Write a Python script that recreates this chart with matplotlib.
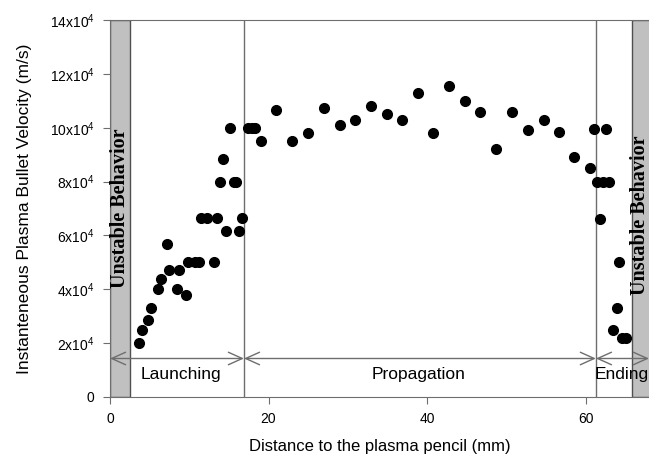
import matplotlib
matplotlib.use("Agg")
import matplotlib.pyplot as plt
from matplotlib.patches import FancyArrowPatch

plt.rcParams["font.family"] = ["Liberation Sans", "DejaVu Sans"]
plt.rcParams["mathtext.default"] = "regular"

# bullet velocities (units of 1e4 m/s) vs distance from the pencil (mm)
launch_x = [3.6, 4.0, 4.8, 5.2, 6.0, 6.4, 7.2, 7.5, 8.4, 8.7, 9.6, 9.9, 10.7,
            11.2, 11.5, 12.3, 13.1, 13.5, 13.9, 14.3, 14.6, 15.1, 15.6, 15.9,
            16.3, 16.7, 17.4, 17.9, 18.3]
launch_v = [2.0, 2.5, 2.85, 3.3, 4.0, 4.4, 5.7, 4.7, 4.0, 4.7, 3.8, 5.0, 5.0,
            5.0, 6.65, 6.65, 5.0, 6.65, 8.0, 8.85, 6.15, 10.0, 8.0, 8.0,
            6.15, 6.65, 10.0, 10.0, 10.0]

prop_x = [19.0, 21.0, 23.0, 25.0, 27.0, 29.0, 30.9, 32.9, 34.9, 36.9, 38.9,
          40.8, 42.8, 44.8, 46.7, 48.7, 50.7, 52.7, 54.7, 56.7, 58.6, 60.6, 61.0]
prop_v = [9.5, 10.65, 9.5, 9.8, 10.75, 10.1, 10.3, 10.8, 10.5, 10.3, 11.3,
          9.8, 11.55, 11.0, 10.6, 9.2, 10.6, 9.9, 10.3, 9.85, 8.9, 8.5, 9.95]

end_x = [61.4, 61.8, 62.2, 62.6, 63.0, 63.4, 63.9, 64.2, 64.6, 65.1]
end_v = [8.0, 6.6, 8.0, 9.95, 8.0, 2.5, 3.3, 5.0, 2.2, 2.2]

# region borders (mm)
unstable_left = 2.5
launch_end = 16.9
prop_end = 61.3
unstable_right = 65.8
x_max = 68.0

yticks = [0, 2, 4, 6, 8, 10, 12, 14]
ytick_labels = ["0"] + [f"{t}x10$^4$" for t in yticks[1:]]
xticks = [0, 20, 40, 60]

fig = plt.figure(figsize=(6.49, 4.58), dpi=100)
ax = fig.add_axes([110 / 649, 1 - 397 / 458, 1 - 110 / 649, 377 / 458])

gray = "#6e6e6e"

ax.axvspan(0, unstable_left, facecolor="#c0c0c0", edgecolor="#505050", lw=1, zorder=1)
ax.axvspan(unstable_right, x_max + 1, facecolor="#c0c0c0", edgecolor="#505050", lw=1, zorder=1)
ax.axvline(launch_end, color=gray, lw=1, zorder=1)
ax.axvline(prop_end, color=gray, lw=1, zorder=1)

for xc, yc in [(unstable_left / 2, 7.0), ((unstable_right + x_max) / 2, 6.75)]:
    ax.text(xc, yc, "Unstable Behavior", rotation=90, ha="center", va="center",
            family="Liberation Serif", weight="bold", fontsize=14.5, zorder=3)

# double arrows marking each stage
arrow_y = 1.43
for x0, x1 in [(0, launch_end), (launch_end, prop_end), (prop_end, x_max)]:
    ax.add_patch(FancyArrowPatch((x0, arrow_y), (x1, arrow_y),
                                 arrowstyle="<->,head_length=1.0,head_width=0.45",
                                 mutation_scale=10, color=gray, lw=1,
                                 shrinkA=0, shrinkB=0, zorder=2, clip_on=False))

label_y = 0.85
ax.text(9.0, label_y, "Launching", ha="center", va="center", fontsize=12.5, zorder=3)
ax.text(38.9, label_y, "Propagation", ha="center", va="center", fontsize=12.5, zorder=3)
ax.text(64.6, label_y, "Ending", ha="center", va="center", fontsize=12.5, zorder=3)

ax.plot(launch_x + prop_x + end_x, launch_v + prop_v + end_v, "o",
        color="black", ms=7, zorder=4, clip_on=False)

ax.set_xlim(0, x_max)
ax.set_ylim(0, 14)
ax.set_xticks(xticks)
ax.set_yticks(yticks)
ax.set_yticklabels(ytick_labels)
ax.tick_params(direction="out", length=5, color=gray, labelsize=10, pad=6)
ax.spines["right"].set_visible(False)
for side in ["left", "bottom", "top"]:
    ax.spines[side].set_color(gray)

ax.set_xlabel("Distance to the plasma pencil (mm)", fontsize=12, labelpad=9)
ax.set_ylabel("Instanteneous Plasma Bullet Velocity (m/s)", fontsize=12.5, labelpad=13)

fig.savefig("out.png", dpi=100)
